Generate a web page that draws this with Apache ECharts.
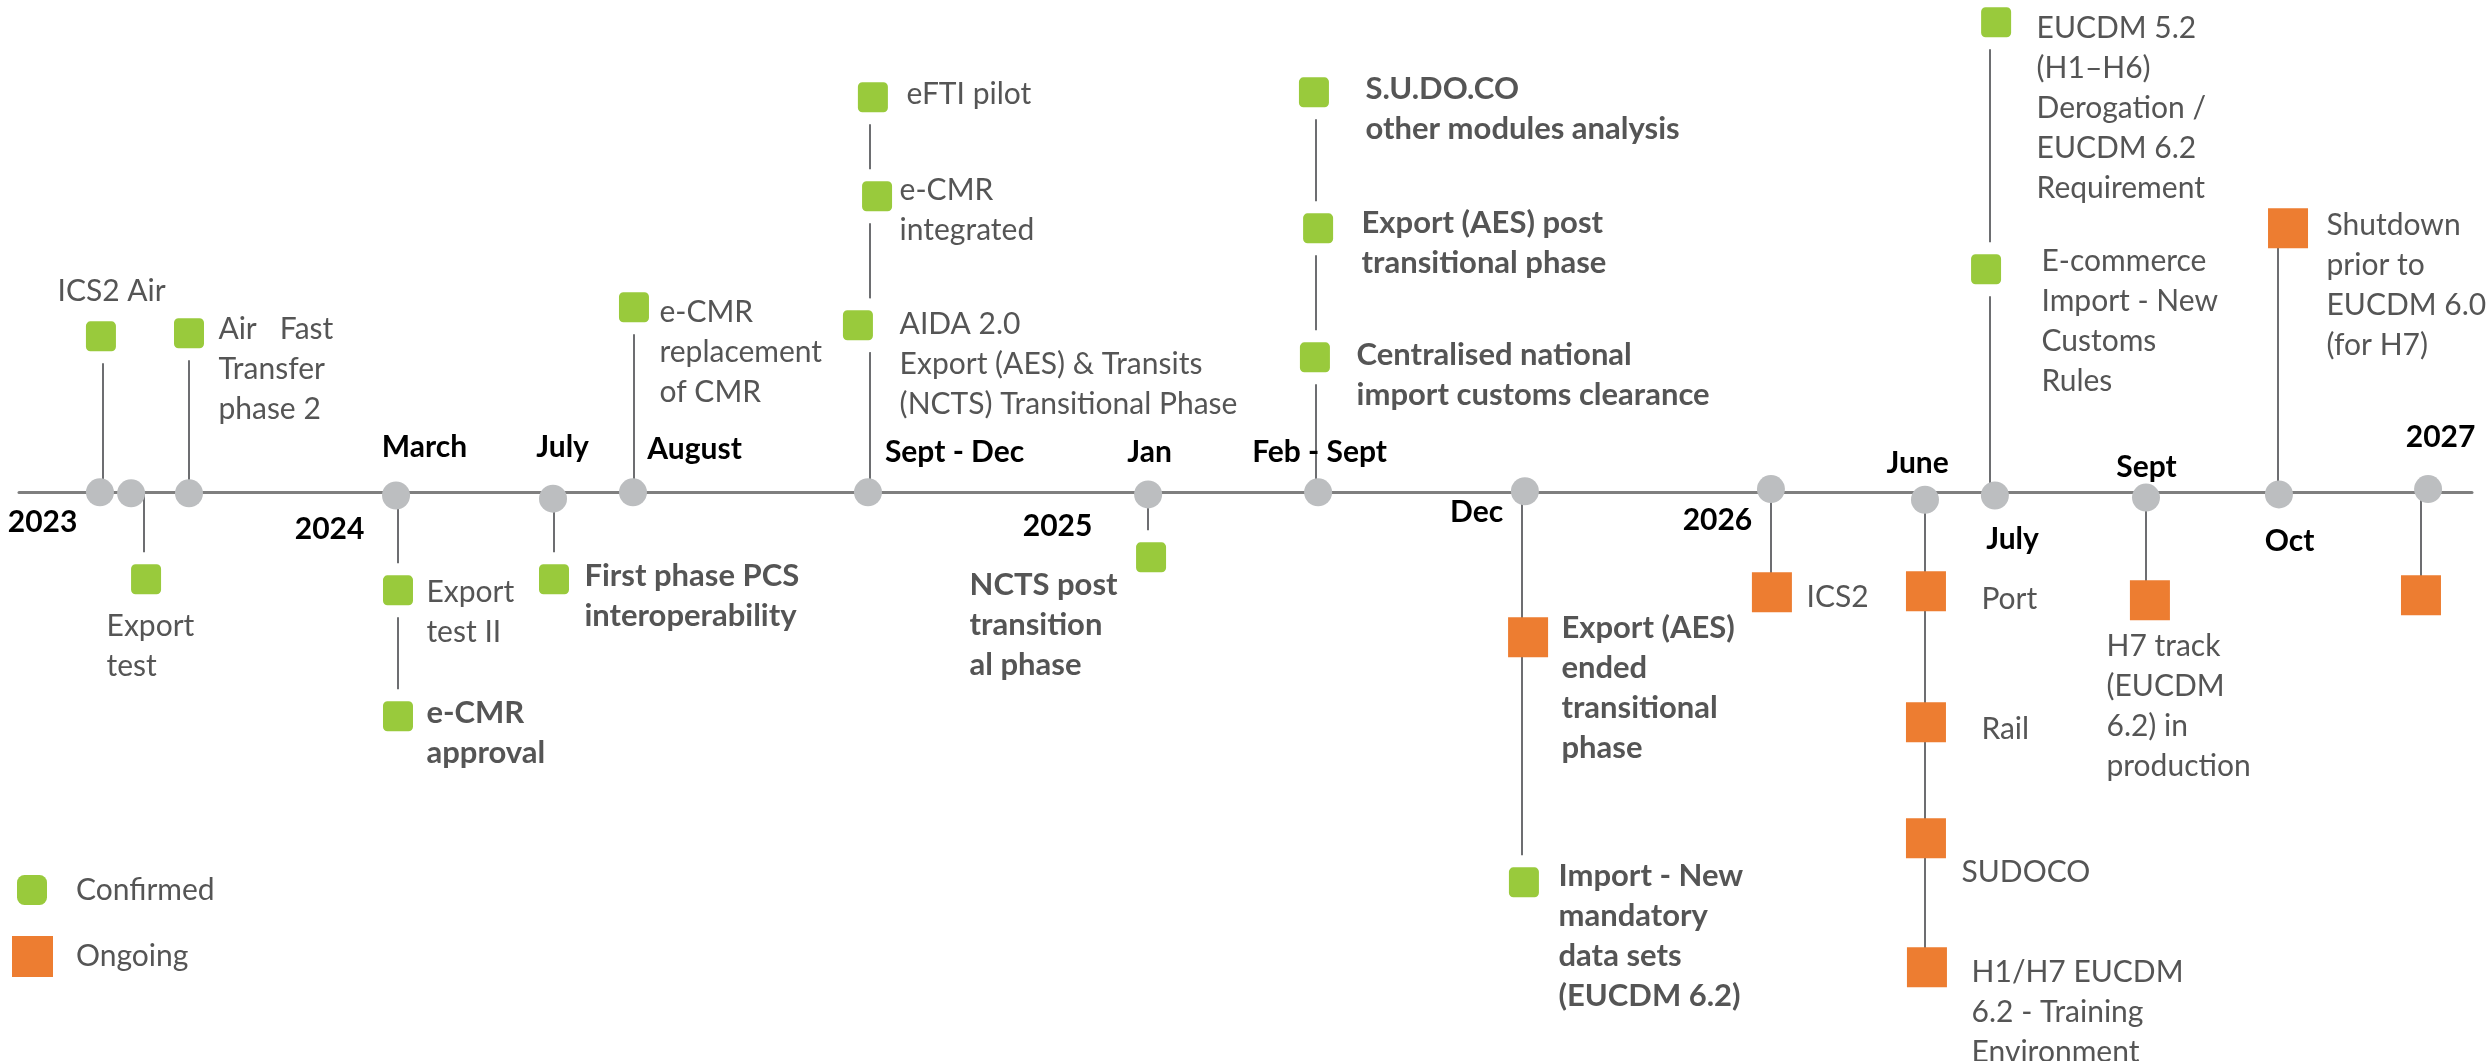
<!DOCTYPE html>
<html>
<head>
<meta charset="utf-8">
<script src="https://cdn.jsdelivr.net/npm/echarts@6/dist/echarts.min.js"></script>
<style>
  html, body { margin: 0; background: #fff; }
  #chart { width: 2488px; height: 1061px; }
</style>
</head>
<body>
<div id="chart"></div>
<script>
// x = place along the timeline (0..100), y = height above (+) / below (-) the axis line

const axisDots = [
  [3.30, 0], [4.57, -0.1], [6.93, -0.1], [15.37, -0.3], [21.77, -0.6], [25.03, 0],
  [34.61, 0], [46.03, -0.2], [52.96, 0], [61.39, 0.1], [71.42, 0.3], [77.70, -0.7],
  [80.55, -0.3], [86.71, -0.5], [92.13, -0.2], [98.21, 0.3]
];

// [x, level reached by the stem]
const stems = [
  [3.42, 14.70], [6.93, 14.99], [5.10, -8.20], [15.45, -21.11], [21.81, -8.20],
  [25.07, 17.44], [34.69, 37.23], [46.03, -6.13], [52.87, 37.70], [61.27, -36.76],
  [71.42, -9.43], [77.70, -44.77], [80.35, 44.30], [86.71, -10.18], [92.09, 24.88],
  [97.92, -9.71]
];

const confirmed = [
  [3.34, 14.70, "ICS2 Air"],
  [6.93, 14.99, "Air Fast Transfer phase 2"],
  [5.18, -8.20, "Export test"],
  [15.45, -9.24, "Export test II"],
  [15.45, -21.11, "e-CMR approval"],
  [21.81, -8.20, "First phase PCS interoperability"],
  [25.07, 17.44, "e-CMR replacement of CMR"],
  [34.81, 37.23, "eFTI pilot"],
  [34.98, 27.90, "e-CMR integrated"],
  [34.20, 15.74, "AIDA 2.0"],
  [46.15, -6.13, "NCTS post transitional phase"],
  [52.79, 37.70, "S.U.DO.CO"],
  [52.96, 24.88, "Export (AES) post transitional phase"],
  [52.83, 12.72, "Centralised national import customs clearance"],
  [61.35, -36.76, "Import - New mandatory data sets"],
  [80.60, 44.30, "EUCDM 5.2"],
  [80.19, 21.02, "E-commerce Import"]
];

const ongoing = [
  [61.52, -13.67, "Export (AES) ended transitional phase"],
  [71.46, -9.43, "ICS2"],
  [77.74, -9.33, "Port"],
  [77.74, -21.68, "Rail"],
  [77.74, -32.61, "SUDOCO"],
  [77.78, -44.77, "H1/H7 EUCDM 6.2 - Training Environment"],
  [86.87, -10.18, "H7 track"],
  [92.50, 24.88, "Shutdown prior to EUCDM 6.0"],
  [97.92, -9.71, "2027"]
];

const notes = [
  [1.59, 18.85, "ICS2 Air"],
  [8.15, 15.27, "Air   Fast\nTransfer\nphase 2"],
  [3.59, -12.72, "Export\ntest"],
  [16.63, -9.43, "Export\ntest II"],
  [26.13, 16.87, "e-CMR\nreplacement\nof CMR"],
  [36.20, 37.42, "eFTI pilot"],
  [35.92, 28.37, "e-CMR\nintegrated"],
  [35.92, 15.74, "AIDA 2.0\nExport (AES) & Transits\n(NCTS) Transitional Phase"],
  [82.27, 43.64, "EUCDM 5.2\n(H1–H6)\nDerogation /\nEUCDM 6.2\nRequirement"],
  [82.47, 21.68, "E-commerce\nImport - New\nCustoms\nRules"],
  [72.89, -9.90, "ICS2"],
  [80.02, -10.18, "Port"],
  [80.02, -22.34, "Rail"],
  [79.21, -35.82, "SUDOCO"],
  [79.62, -45.33, "H1/H7 EUCDM\n6.2 - Training\nEnvironment"],
  [85.12, -14.61, "H7 track\n(EUCDM\n6.2) in\nproduction"],
  [94.09, 25.07, "Shutdown\nprior to\nEUCDM 6.0\n(for H7)"]
];

const boldNotes = [
  [16.63, -20.83, "e-CMR\napproval"],
  [23.07, -7.92, "First phase PCS\ninteroperability"],
  [38.77, -8.77, "NCTS post\ntransition\nal phase"],
  [54.91, 37.98, "S.U.DO.CO\nother modules analysis"],
  [54.75, 25.35, "Export (AES) post\ntransitional phase"],
  [54.55, 12.91, "Centralised national\nimport customs clearance"],
  [62.90, -12.82, "Export (AES)\nended\ntransitional\nphase"],
  [62.78, -36.19, "Import - New\nmandatory\ndata sets\n(EUCDM 6.2)"]
];

const periods = [
  [0.98, -2.83, "2023"], [12.68, -3.49, "2024"], [16.55, 4.15, "March"],
  [22.18, 4.15, "July"], [27.56, 3.96, "August"], [38.16, 3.68, "Sept - Dec"],
  [46.11, 3.68, "Jan"], [42.36, -3.30, "2025"], [53.04, 3.68, "Feb - Sept"],
  [59.44, -1.98, "Dec"], [69.26, -2.73, "2026"], [77.42, 2.73, "June"],
  [81.29, -4.52, "July"], [86.75, 2.26, "Sept"], [92.58, -4.71, "Oct"],
  [98.74, 5.18, "2027"]
];

const FONT = "Lato";
const GREY_TEXT = "#555555";
const GREEN = "#99ca3c";
const ORANGE = "#ed7d31";

const chart = echarts.init(document.getElementById("chart"), null, { renderer: "canvas" });

const noteSeries = (name, data, weight, size) => ({
  name,
  type: "scatter",
  data: data.map(([x, y, t]) => ({ value: [x, y], label: { formatter: t } })),
  symbolSize: 1,
  itemStyle: { color: "transparent", opacity: 1 },
  silent: true,
  z: 5,
  label: {
    show: true,
    position: [0, 0],
    align: "left",
    verticalAlign: "top",
    offset: [0, -20],
    fontFamily: FONT,
    fontSize: size,
    fontWeight: weight,
    lineHeight: 40,
    color: GREY_TEXT,
    opacity: 1
  }
});

chart.setOption({
  animation: false,
  backgroundColor: "#fff",
  grid: { left: 19, right: 16, top: 0, bottom: 0 },
  xAxis: {
    type: "value",
    min: 0,
    max: 100,
    axisLine: { show: true, onZero: true, lineStyle: { color: "#7f7f7f", width: 3 } },
    axisTick: { show: false },
    axisLabel: { show: false },
    splitLine: { show: false }
  },
  yAxis: {
    type: "value",
    min: -53.6,
    max: 46.4,
    show: false
  },
  legend: [
    {
      data: ["Confirmed"],
      selectedMode: false,
      left: 12, top: 870,
      itemWidth: 30, itemHeight: 30,
      icon: "roundRect",
      itemStyle: { borderWidth: 0 },
      textStyle: { fontFamily: FONT, fontSize: 30, color: GREY_TEXT, padding: [0, 0, 0, 24] }
    },
    {
      data: ["Ongoing"],
      selectedMode: false,
      left: 7, top: 931,
      itemWidth: 41, itemHeight: 41,
      icon: "rect",
      textStyle: { fontFamily: FONT, fontSize: 30, color: GREY_TEXT, padding: [0, 0, 0, 18] }
    }
  ],
  series: [
    {
      name: "stems",
      type: "lines",
      coordinateSystem: "cartesian2d",
      data: stems.map(([x, y]) => ({ coords: [[x, 0], [x, y]] })),
      lineStyle: { color: "#6d6e71", width: 2, opacity: 1 },
      silent: true,
      z: 1
    },
    {
      name: "dates",
      type: "scatter",
      data: axisDots,
      symbol: "circle",
      symbolSize: 28,
      itemStyle: { color: "#bcbec0", opacity: 1 },
      z: 2
    },
    {
      name: "Confirmed",
      type: "scatter",
      data: confirmed.map(([x, y, n]) => ({ value: [x, y], name: n })),
      symbol: "roundRect",
      symbolSize: 42,
      itemStyle: { color: GREEN, borderColor: "#fff", borderWidth: 12, opacity: 1 },
      z: 3
    },
    {
      name: "Ongoing",
      type: "scatter",
      data: ongoing.map(([x, y, n]) => ({ value: [x, y], name: n })),
      symbol: "rect",
      symbolSize: 40,
      itemStyle: { color: ORANGE, opacity: 1 },
      z: 3
    },
    noteSeries("notes", notes, "normal", 30),
    noteSeries("boldNotes", boldNotes, "bold", 31),
    {
      name: "periods",
      type: "scatter",
      data: periods.map(([x, y, t]) => ({ value: [x, y], label: { formatter: t } })),
      symbolSize: 1,
      itemStyle: { color: "transparent", opacity: 1 },
      silent: true,
      z: 5,
      label: {
        show: true,
        position: [0, 0],
        align: "center",
        verticalAlign: "middle",
        fontFamily: FONT,
        fontSize: 30,
        fontWeight: "bold",
        color: "#000",
        opacity: 1
      }
    }
  ]
});
</script>
</body>
</html>
